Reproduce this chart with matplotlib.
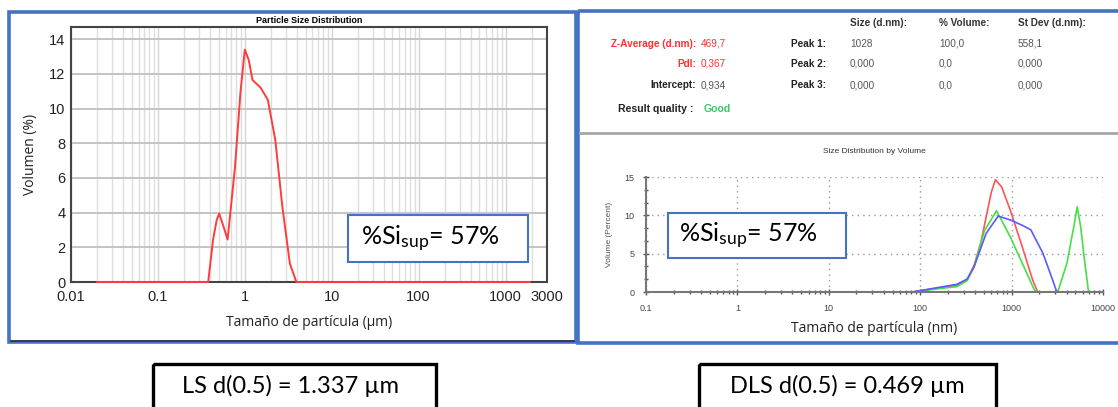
import matplotlib
matplotlib.use("Agg")
import matplotlib.pyplot as plt
from matplotlib.patches import Rectangle
from matplotlib.ticker import LogLocator, FixedLocator, NullFormatter, MultipleLocator

W, H = 1118, 407

# ---- data ----
# laser scattering (LS), size in um, volume in %
ls_size = [0.02, 0.379, 0.43, 0.474, 0.507, 0.56, 0.634, 0.77, 0.89, 1.0,
           1.11, 1.225, 1.52, 1.84, 2.24, 2.71, 3.30, 3.92, 1900]
ls_vol = [0, 0, 2.4, 3.56, 3.95, 3.3, 2.45, 6.6, 10.9, 13.4,
          12.8, 11.65, 11.2, 10.5, 8.2, 4.3, 1.06, 0, 0]
ls_ticks = [0.01, 0.1, 1, 10, 100, 1000, 3000]
ls_ticklabels = ["0.01", "0.1", "1", "10", "100", "1000", "3000"]

# dynamic light scattering (DLS), size in nm, volume in %
dls_red_size = [82, 126, 179, 252, 327, 389, 462, 527, 600, 665, 778, 966, 1308, 1695, 1930]
dls_red_vol = [0, 0.35, 0.6, 0.9, 1.6, 3.5, 6.5, 9.8, 13.0, 14.65, 13.7, 10.7, 5.9, 1.6, 0]
dls_green_size = [82, 179, 252, 327, 389, 505, 684, 966, 1308, 1770, 1930, 3100, 3240,
                  4030, 4790, 5220, 5700, 6210, 6950]
dls_green_vol = [0, 0.5, 0.7, 1.5, 3.3, 8.0, 10.6, 7.2, 3.76, 0.3, 0, 0, 0.2,
                 3.76, 8.5, 11.1, 8.5, 4.6, 0]
dls_blue_size = [0.4, 82, 179, 252, 327, 389, 527, 713, 966, 1308, 1625, 2200, 2730,
                 3100, 3390, 10000]
dls_blue_vol = [0, 0, 0.7, 1.0, 1.7, 3.3, 7.65, 9.9, 9.4, 8.7, 8.1, 5.06, 2.0,
                0.1, 0, 0]
dls_ticks = [0.1, 1, 10, 100, 1000, 10000]
dls_ticklabels = ["0.1", "1", "10", "100", "1000", "10000"]

headers = ["Size (d.nm):", "% Volume:", "St Dev (d.nm):"]
peak_names = ["Peak 1:", "Peak 2:", "Peak 3:"]
peak_size = ["1028", "0,000", "0,000"]
peak_volume = ["100,0", "0,0", "0,0"]
peak_stdev = ["558,1", "0,000", "0,000"]
z_average = "469,7"
pdi = "0,367"
intercept = "0,934"
quality = "Good"

si_text = r"%Si$_{\mathrm{sup}}$= 57%"
ls_d50 = "LS d(0.5) = 1.337 µm"
dls_d50 = "DLS d(0.5) = 0.469 µm"

plt.rcParams["mathtext.fontset"] = "custom"
plt.rcParams["mathtext.rm"] = "Lato"
plt.rcParams["mathtext.it"] = "Lato:italic"
plt.rcParams["mathtext.bf"] = "Lato:bold"

arial = ["Liberation Sans", "DejaVu Sans"]
label_font = ["Open Sans", "DejaVu Sans"]


def box(x0, y0, x1, y1):
    # pixel box (top-left origin) -> figure fractions
    return [x0 / W, 1 - y1 / H, (x1 - x0) / W, (y1 - y0) / H]


fig = plt.figure(figsize=(W / 100, H / 100), dpi=100)
fig.patch.set_facecolor("white")

# background layer in pixel coordinates
bg = fig.add_axes([0, 0, 1, 1])
bg.set_xlim(0, W)
bg.set_ylim(H, 0)
bg.axis("off")

blue = "#4472c4"
bg.add_patch(Rectangle((9, 12), 567, 330, fill=False, ec=blue, lw=2.6))
bg.plot([11, 574], [340.5, 340.5], color="#333333", lw=1.2)
bg.add_patch(Rectangle((578, 11), 560, 332, fill=False, ec=blue, lw=2.6))
bg.plot([580, 1118], [133, 133], color="#a6a6a6", lw=2)

# info panel text
hx = [850, 939, 1018]
for x, t in zip(hx, headers):
    bg.text(x, 23, t, fontsize=7.2, fontweight="bold", color="#333333",
            family=arial, va="center")
rows_y = [44, 64, 85]
left_labels = ["Z-Average (d.nm):", "PdI:", "Intercept:"]
left_values = [z_average, pdi, intercept]
left_colors = ["#ff3030", "#ff3030", "#222222"]
val_colors = ["#ff3030", "#ff3030", "#555555"]
for y, lab, val, c1, c2 in zip(rows_y, left_labels, left_values, left_colors, val_colors):
    bg.text(696, y, lab, fontsize=7.2, fontweight="bold", color=c1, family=arial,
            ha="right", va="center")
    bg.text(701, y, val, fontsize=7.2, color=c2, family=arial, va="center")
for i, y in enumerate(rows_y):
    bg.text(791, y, peak_names[i], fontsize=7.2, fontweight="bold", color="#222222",
            family=arial, va="center")
    bg.text(850, y, peak_size[i], fontsize=7.2, color="#555555", family=arial, va="center")
    bg.text(939, y, peak_volume[i], fontsize=7.2, color="#555555", family=arial, va="center")
    bg.text(1018, y, peak_stdev[i], fontsize=7.2, color="#555555", family=arial, va="center")
bg.text(693, 109, "Result quality :", fontsize=7.6, fontweight="bold", color="#222222",
        family=arial, ha="right", va="center")
bg.text(704, 109, quality, fontsize=7.6, fontweight="bold", color="#33cc66",
        family=arial, va="center")

# bottom boxes
bg.add_patch(Rectangle((153, 364), 283, 60, fill=False, ec="black", lw=2.4, clip_on=False))
bg.text(290, 386, ls_d50, fontsize=17, family="Lato", ha="center", va="center")
bg.add_patch(Rectangle((699, 364), 297, 60, fill=False, ec="black", lw=2.4, clip_on=False))
bg.text(847, 386, dls_d50, fontsize=17, family="Lato", ha="center", va="center")

# ---- left plot: LS ----
ax1 = fig.add_axes(box(71, 27, 547, 282))
ax1.set_xscale("log")
ax1.set_xlim(0.01, 3000)
ax1.set_ylim(0, 14.7)
ax1.xaxis.set_major_locator(FixedLocator(ls_ticks))
ax1.set_xticklabels(ls_ticklabels)
ax1.xaxis.set_minor_locator(LogLocator(base=10, subs=range(2, 10), numticks=20))
ax1.xaxis.set_minor_formatter(NullFormatter())
ax1.yaxis.set_major_locator(MultipleLocator(2))
ax1.grid(True, which="major", axis="x", color="#d4d4d4", lw=1)
ax1.grid(True, which="minor", axis="x", color="#dedede", lw=1)
ax1.grid(True, which="major", axis="y", color="#c4c4c4", lw=1.4)
ax1.set_axisbelow(True)
for s in ax1.spines.values():
    s.set_color("#444444")
    s.set_linewidth(1.5)
ax1.tick_params(which="both", length=0, labelsize=10.5, labelcolor="#222222")
ax1.tick_params(axis="x", pad=6)
ax1.tick_params(axis="y", pad=4)
for lab in ax1.get_xticklabels() + ax1.get_yticklabels():
    lab.set_family(arial)
ax1.plot(ls_size, ls_vol, color="#ff3b3b", lw=1.4, clip_on=False, zorder=3)
ax1.set_title("Particle Size Distribution", fontsize=6.5, fontweight="bold",
              family=arial, pad=3)
ax1.set_xlabel("Tamaño de partícula (µm)", fontsize=10, family=label_font,
               labelpad=8, color="#222222")
ax1.set_ylabel("Volumen (%)", fontsize=10, family=label_font,
               labelpad=8, color="#222222")

# ---- right plot: DLS ----
ax2 = fig.add_axes(box(646, 177, 1103, 292))
ax2.set_xscale("log")
ax2.set_xlim(0.1, 10000)
ax2.set_ylim(0, 15)
ax2.xaxis.set_major_locator(FixedLocator(dls_ticks))
ax2.set_xticklabels(dls_ticklabels)
ax2.xaxis.set_minor_locator(LogLocator(base=10, subs=range(2, 10), numticks=20))
ax2.xaxis.set_minor_formatter(NullFormatter())
ax2.yaxis.set_major_locator(MultipleLocator(5))
ax2.yaxis.set_minor_locator(MultipleLocator(5 / 3))
ax2.grid(True, which="major", color="#999999", lw=1, linestyle=(0, (1, 3)))
ax2.spines["top"].set_visible(False)
ax2.spines["right"].set_visible(False)
ax2.spines["left"].set_color("#777777")
ax2.spines["bottom"].set_color("#777777")
ax2.spines["left"].set_linewidth(1.5)
ax2.spines["bottom"].set_linewidth(1.5)
ax2.tick_params(which="major", direction="inout", length=5, width=1, color="#555555",
                labelsize=6.5, labelcolor="#444444", pad=6)
ax2.tick_params(which="minor", direction="inout", length=3, width=1, color="#555555")
for lab in ax2.get_xticklabels() + ax2.get_yticklabels():
    lab.set_family(arial)
ax2.plot(dls_red_size, dls_red_vol, color="#ff5555", lw=1.2)
ax2.plot(dls_green_size, dls_green_vol, color="#44e044", lw=1.2)
ax2.plot(dls_blue_size, dls_blue_vol, color="#5a5aff", lw=1.2)
ax2.set_title("Size Distribution by Volume", fontsize=6, family=arial, color="#333333", pad=17)
ax2.set_xlabel("Tamaño de partícula (nm)", fontsize=10, family=label_font,
               labelpad=6, color="#222222")
ax2.set_ylabel("Volume (Percent)", fontsize=6, family=arial, color="#555555", labelpad=8)

# overlay text boxes on top of the plots
top = fig.add_axes([0, 0, 1, 1])
top.set_xlim(0, W)
top.set_ylim(H, 0)
top.axis("off")
top.add_patch(Rectangle((348, 215), 180, 47, fc="white", ec=blue, lw=1.5))
top.text(361, 239, si_text, fontsize=18, family="Lato", va="center")
top.add_patch(Rectangle((668, 213), 178, 45, fc="white", ec=blue, lw=1.5))
top.text(679, 236, si_text, fontsize=18, family="Lato", va="center")

fig.savefig("out.png", dpi=100)
